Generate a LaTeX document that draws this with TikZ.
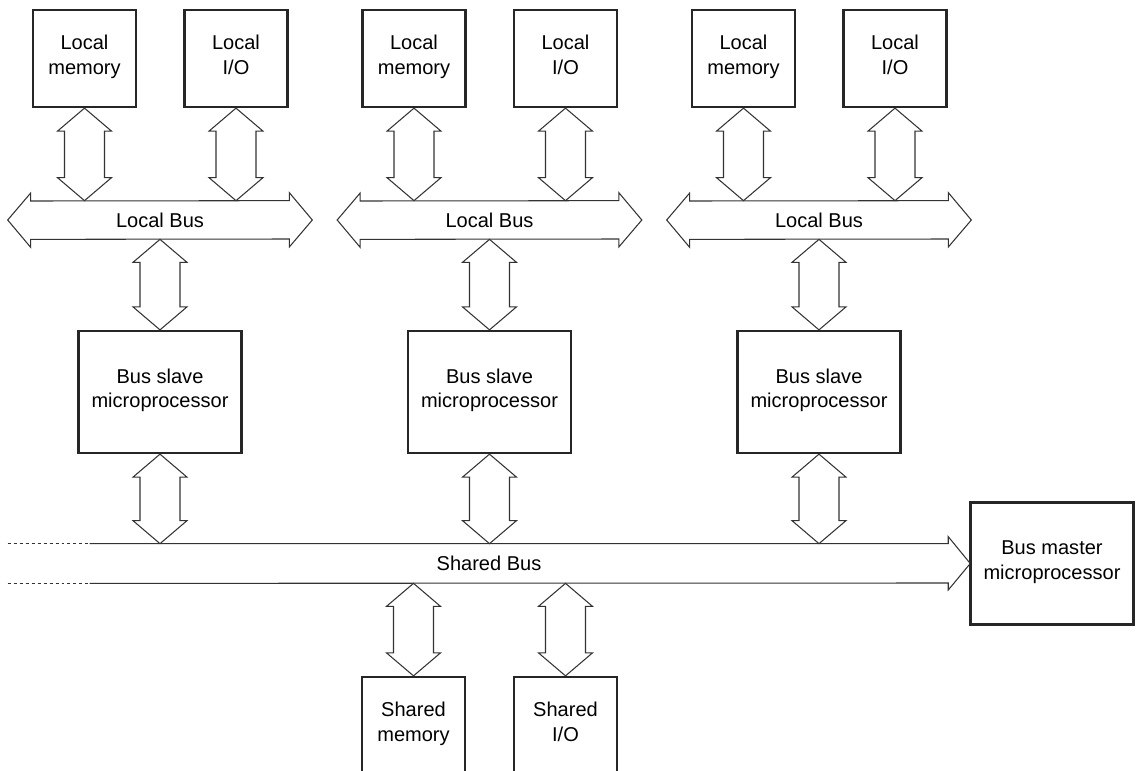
\documentclass[tikz,border=0pt]{standalone}
\usepackage{fontspec}
\setmainfont{Liberation Sans}
\usetikzlibrary{positioning, calc}

% fat double-headed link, from a top point down to a bottom point
\newcommand{\vlink}[2]{%
  \draw[link] (#1) -- ++(27,23) -- ++(-7,0) -- ($(#2)+(20,-23)$) -- ++(7,0)
    -- (#2) -- ++(-27,-23) -- ++(7,0) -- ($(#1)+(-20,23)$) -- ++(-7,0) -- cycle;}

\begin{document}
\begin{tikzpicture}[
  x=0.02cm, y=-0.02cm,
  txt/.style={font=\fontsize{11.4}{14.2}\selectfont, align=center},
  lbox/.style={txt, draw=black!85, line width=1.3pt, inner sep=0pt,
               minimum width=2.06cm, minimum height=1.94cm, execute at end node=\strut},
  pbox/.style={txt, draw=black!85, line width=1.3pt, inner sep=0pt,
               minimum width=3.26cm, minimum height=2.44cm, execute at end node=\strut},
  busbox/.style={txt, inner sep=0pt},
  link/.style={draw=black!80, line width=0.6pt, line join=miter},
  dots/.style={link, dash pattern=on 1.7pt off 1.7pt},
]
  \useasboundingbox (0,0) rectangle (1137,771);
  \clip (0,0) rectangle (1137,771);

  % one column per bus slave
  \foreach \i/\dx in {1/0, 2/329.5, 3/659} {
    \node[lbox] (mem\i) at (84.5+\dx,58.5) {Local\\memory};
    \node[lbox] (io\i) at (236+\dx,58.5) {Local\\I/O};
    \node[busbox, minimum width=6.08cm, minimum height=0.76cm] (lb\i) at (160+\dx,220) {Local Bus};
    \node[pbox] (sl\i) at (160+\dx,392) {Bus slave\\microprocessor};
  }

  % Shared bus and the units hanging on it
  \node[busbox, minimum width=19.24cm, minimum height=0.78cm] (sb) at (489,563.5) {Shared Bus};
  \node[pbox] (bm) at (1052,563.5) {Bus master\\microprocessor};
  \node[lbox] (smem) at (413.5,725.5) {Shared\\memory};
  \node[lbox] (sio) at (565.5,725.5) {Shared\\I/O};

  % Local bus outlines
  \foreach \i in {1,2,3} {
    \draw[link] (lb\i.west) -- ++(23,-27) -- ++(0,8) -- ($(lb\i.north east)+(-23,0)$)
      -- ++(0,-8) -- (lb\i.east) -- ++(-23,27) -- ++(0,-8)
      -- ($(lb\i.south west)+(23,0)$) -- ++(0,8) -- cycle;
  }

  % Shared bus outline
  \draw[dots] (sb.north west) -- ++(82,0);
  \draw[dots] (sb.south west) -- ++(82,0);
  \draw[link] ($(sb.north west)+(82,0)$) -- ($(sb.north east)+(-22,0)$) -- ++(0,-7)
    -- (sb.east) -- ++(-22,26.5) -- ++(0,-7) -- ($(sb.south west)+(82,0)$);

  % links
  \foreach \i in {1,2,3} {
    \vlink{mem\i.south}{mem\i.south |- lb\i.north}
    \vlink{io\i.south}{io\i.south |- lb\i.north}
    \vlink{lb\i.south}{sl\i.north}
    \vlink{sl\i.south}{sl\i.south |- sb.north}
  }
  \vlink{smem.north |- sb.south}{smem.north}
  \vlink{sio.north |- sb.south}{sio.north}
\end{tikzpicture}
\end{document}
